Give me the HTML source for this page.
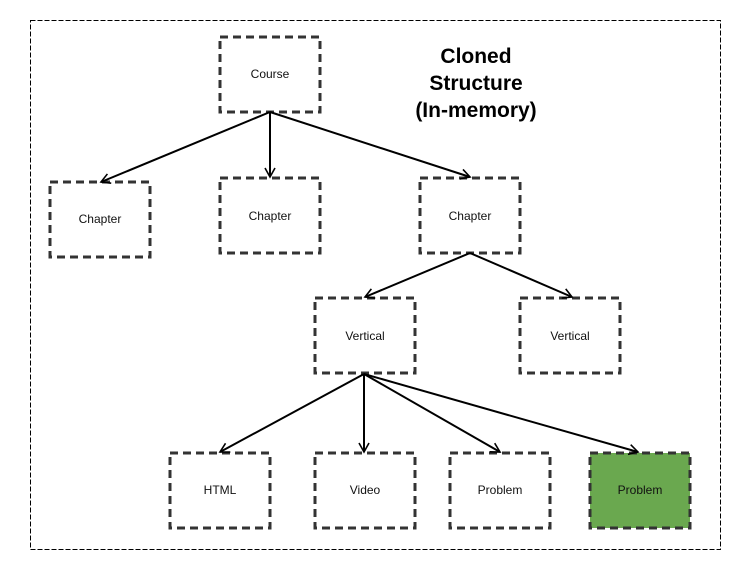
<!DOCTYPE html>
<html><head><style>
body{margin:0;background:#fff;}
svg{display:block;font-family:"Liberation Sans",Arial,sans-serif;}
</style></head><body>
<svg width="740" height="570" viewBox="0 0 740 570" xmlns="http://www.w3.org/2000/svg">
<defs>
<marker id="a" markerWidth="12" markerHeight="12" refX="10" refY="6" orient="auto" markerUnits="userSpaceOnUse">
<path d="M1,1 L10,6 L1,11" fill="none" stroke="#000" stroke-width="1.6"/>
</marker>
</defs>
<rect x="30.5" y="20.5" width="690" height="529" fill="none" stroke="#000" stroke-width="1" stroke-dasharray="5,2"/>
<g fill="none" stroke="#333" stroke-width="3" stroke-dasharray="8,5">
<rect x="220" y="37" width="100" height="75"/>
<rect x="50" y="182" width="100" height="75"/>
<rect x="220" y="178" width="100" height="75"/>
<rect x="420" y="178" width="100" height="75"/>
<rect x="315" y="298" width="100" height="75"/>
<rect x="520" y="298" width="100" height="75"/>
<rect x="170" y="453" width="100" height="75"/>
<rect x="315" y="453" width="100" height="75"/>
<rect x="450" y="453" width="100" height="75"/>
<rect x="590" y="453" width="100" height="75" fill="#6aa84f"/>
</g>
<g stroke="#000" stroke-width="2" marker-end="url(#a)">
<line x1="270" y1="112" x2="101" y2="182"/>
<line x1="270" y1="112" x2="270" y2="177"/>
<line x1="270" y1="112" x2="470" y2="177"/>
<line x1="470" y1="253" x2="365" y2="297"/>
<line x1="470" y1="253" x2="572" y2="297"/>
<line x1="364" y1="374" x2="220" y2="452"/>
<line x1="364" y1="374" x2="364" y2="452"/>
<line x1="364" y1="374" x2="500" y2="452"/>
<line x1="364" y1="374" x2="638" y2="452"/>
</g>
<g font-size="12" fill="#111" text-anchor="middle">
<text x="270" y="78">Course</text>
<text x="100" y="223">Chapter</text>
<text x="270" y="220">Chapter</text>
<text x="470" y="220">Chapter</text>
<text x="365" y="340">Vertical</text>
<text x="570" y="340">Vertical</text>
<text x="220" y="494">HTML</text>
<text x="365" y="494">Video</text>
<text x="500" y="494">Problem</text>
<text x="640" y="494">Problem</text>
</g>
<g font-size="21" font-weight="bold" text-anchor="middle" fill="#000">
<text x="476" y="63">Cloned</text>
<text x="476" y="90">Structure</text>
<text x="476" y="117">(In-memory)</text>
</g>
</svg>
</body></html>
